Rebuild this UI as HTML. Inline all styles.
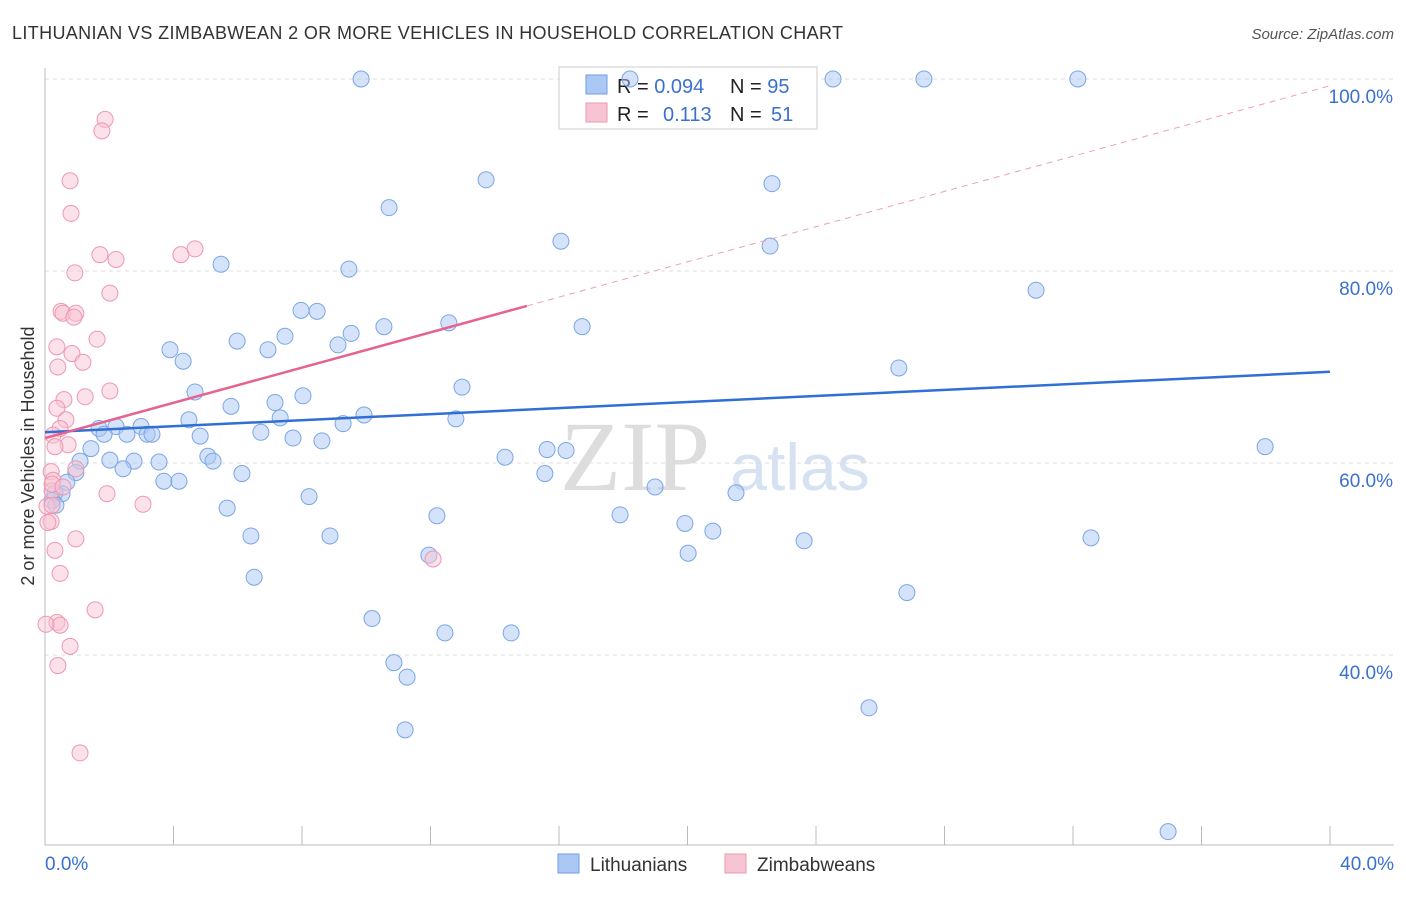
<!DOCTYPE html>
<html><head><meta charset="utf-8"><style>
body{margin:0;background:#fff;font-family:"Liberation Sans",sans-serif;}
</style></head><body>
<svg id="chart" width="1406" height="892" xmlns="http://www.w3.org/2000/svg">
<text x="12" y="39" font-size="18" fill="#333" textLength="831">LITHUANIAN VS ZIMBABWEAN 2 OR MORE VEHICLES IN HOUSEHOLD CORRELATION CHART</text>
<text x="1394" y="39" font-size="15" fill="#555" font-style="italic" text-anchor="end">Source: ZipAtlas.com</text>
<text x="635" y="490" font-size="100" fill="#ddd" font-family="Liberation Serif,serif" text-anchor="middle">ZIP</text>
<text x="800" y="490" font-size="66" fill="#d6e2f2" text-anchor="middle">atlas</text>
<g id="grid"></g><g id="axes"></g>
<g>
<rect x="559" y="67" width="258" height="62" fill="#fff" stroke="#ccc"/>
<rect x="586" y="75" width="21" height="19" fill="#aac8f3" stroke="#6f9ee6"/>
<rect x="586" y="103" width="21" height="19" fill="#f7c4d3" stroke="#ee97b2"/>
<text x="617" y="93" font-size="20" fill="#222">R = <tspan fill="#3a70d0">0.094</tspan></text>
<text x="730" y="93" font-size="20" fill="#222">N = <tspan fill="#3a70d0">95</tspan></text>
<text x="617" y="121" font-size="20" fill="#222">R =  <tspan x="663" fill="#3a70d0">0.113</tspan></text>
<text x="730" y="121" font-size="20" fill="#222">N = <tspan x="771" fill="#3a70d0">51</tspan></text>
</g>
<g id="pts"></g><g id="lines"></g>
<text transform="translate(34,456) rotate(-90)" font-size="18" fill="#333" text-anchor="middle">2 or more Vehicles in Household</text>
<g>
<rect x="558" y="854" width="21" height="19" fill="#aac8f3" stroke="#6f9ee6"/>
<text x="590" y="871" font-size="19" fill="#333">Lithuanians</text>
<rect x="725" y="854" width="21" height="19" fill="#f7c4d3" stroke="#ee97b2"/>
<text x="757" y="871" font-size="19" fill="#333">Zimbabweans</text>
</g>
</svg>
<script>
const yTicks=[100,80,60,40];
const yTickLabels=["100.0%","80.0%","60.0%","40.0%"];
const xTickCount=[0,4,8,12,16,20,24,28,32,36,40];
const blueX=[9.84,18.21,24.53,27.36,32.15,13.73,22.63,10.71,16.06,22.57,5.48,9.46,30.85,7.97,8.47,10.55,16.72,12.57,9.53,9.12,5.98,7.47,3.89,4.30,6.94,26.58,4.67,12.98,8.03,7.16,5.79,4.48,7.32,9.93,9.28,12.79,2.21,1.68,2.99,3.18,2.55,3.33,4.83,1.84,6.72,7.72,8.62,1.43,37.98,14.32,16.22,15.63,5.07,5.23,2.02,2.77,3.55,1.09,2.43,6.13,15.56,0.96,0.68,3.70,4.17,0.53,0.31,0.22,0.34,8.22,18.99,21.51,5.67,17.90,12.20,19.92,6.41,8.87,32.56,20.79,23.63,11.95,20.02,6.51,26.83,10.18,12.45,14.51,10.86,11.27,25.65,11.21,34.96];
const blueY=[100,100,100,100,100,89.5,89.1,86.6,83.1,82.6,80.7,80.2,78.0,75.9,75.8,74.2,74.2,74.6,73.5,72.3,72.7,73.2,71.8,70.6,71.8,69.9,67.4,67.9,67.0,66.3,65.9,64.5,64.7,65.0,64.1,64.6,63.8,63.6,63.8,63.0,63.0,63.0,62.8,63.0,63.2,62.6,62.3,61.5,61.7,60.6,61.3,61.4,60.7,60.2,60.3,60.2,60.1,60.2,59.4,58.9,58.9,59.0,58.0,58.1,58.1,56.8,56.9,56.1,55.6,56.5,57.5,56.9,55.3,54.6,54.5,53.7,52.4,52.4,52.2,52.9,51.9,50.4,50.6,48.1,46.5,43.8,42.3,42.3,39.2,37.7,34.5,32.2,21.6];
const pinkX=[1.87,1.77,0.78,0.81,4.67,4.23,1.71,2.21,0.93,2.02,0.50,0.56,0.96,0.90,1.62,0.37,0.84,1.18,0.40,2.02,1.25,0.59,0.37,0.65,0.47,0.25,0.72,0.31,0.96,0.19,0.25,0.22,1.93,0.06,0.22,3.05,0.19,0.09,0.96,0.31,0.47,12.08,1.56,0.37,0.47,0.03,0.78,0.40,1.09,0.22,0.56];
const pinkY=[95.8,94.6,89.4,86.0,82.3,81.7,81.7,81.2,79.8,77.7,75.8,75.6,75.6,75.2,72.9,72.1,71.4,70.5,70.0,67.5,66.9,66.6,65.7,64.5,63.6,62.9,61.9,61.7,59.4,59.1,58.2,57.1,56.8,55.5,55.6,55.7,53.9,53.8,52.1,50.9,48.5,50.0,44.7,43.4,43.1,43.2,40.9,38.9,29.8,57.8,57.5];
const blueLine=[63.2,69.5];
const pinkLine=[62.6,99.3];
const pinkSolidEnd=15.0;
const NS="http://www.w3.org/2000/svg";
const X=v=>45+v*32.125, Y=v=>79+(100-v)*9.6;
function mk(tag,attrs,parent){const e=document.createElementNS(NS,tag);for(const k in attrs)e.setAttribute(k,attrs[k]);parent.appendChild(e);return e;}
const grid=document.getElementById('grid'),axes=document.getElementById('axes'),pts=document.getElementById('pts'),lines=document.getElementById('lines');
yTicks.forEach((t,i)=>{
 const l=mk('line',{x1:45,x2:1394,y1:Y(t),y2:Y(t),stroke:'#ddd','stroke-dasharray':'4,4'},grid);
 
 
 const tx=mk('text',{x:1393,y:Y(t)+24,'font-size':19,fill:'#3a70d0','text-anchor':'end'},grid);
 tx.textContent=yTickLabels[i];
 
 
});
const ax=mk('line',{x1:45,x2:45,y1:68,y2:845,stroke:'#bbb'},axes);


const bx=mk('line',{x1:45,x2:1394,y1:845,y2:845,stroke:'#bbb'},axes);


xTickCount.forEach(t=>{
 const l=mk('line',{x1:X(t),x2:X(t),y1:826,y2:845,stroke:'#bbb'},axes);
 
 
});
const x0=mk('text',{x:45,y:870,'font-size':19,fill:'#3a70d0'},axes);x0.textContent='0.0%';


const x1=mk('text',{x:1394,y:870,'font-size':19,fill:'#3a70d0','text-anchor':'end'},axes);x1.textContent='40.0%';


blueX.forEach((v,i)=>{
 const c=mk('circle',{cx:X(v),cy:Y(blueY[i]),r:8,fill:'rgba(170,200,243,0.5)',stroke:'#7aa6e6','stroke-width':1},pts);
 
 
});
pinkX.forEach((v,i)=>{
 const c=mk('circle',{cx:X(v),cy:Y(pinkY[i]),r:8,fill:'rgba(247,196,211,0.5)',stroke:'#ee97b2','stroke-width':1},pts);
 
 
});
const bl=mk('line',{x1:X(0),y1:Y(blueLine[0]),x2:X(40),y2:Y(blueLine[1]),stroke:'#2f6fd6','stroke-width':2.5},lines);


const pMid=pinkLine[0]+(pinkLine[1]-pinkLine[0])*pinkSolidEnd/40;
const pl=mk('line',{x1:X(0),y1:Y(pinkLine[0]),x2:X(pinkSolidEnd),y2:Y(pMid),stroke:'#e5638e','stroke-width':2.5},lines);


const pd=mk('line',{x1:X(pinkSolidEnd),y1:Y(pMid),x2:X(40),y2:Y(pinkLine[1]),stroke:'#eaa0b8','stroke-width':1,'stroke-dasharray':'6,5'},lines);


</script>
</body></html>
